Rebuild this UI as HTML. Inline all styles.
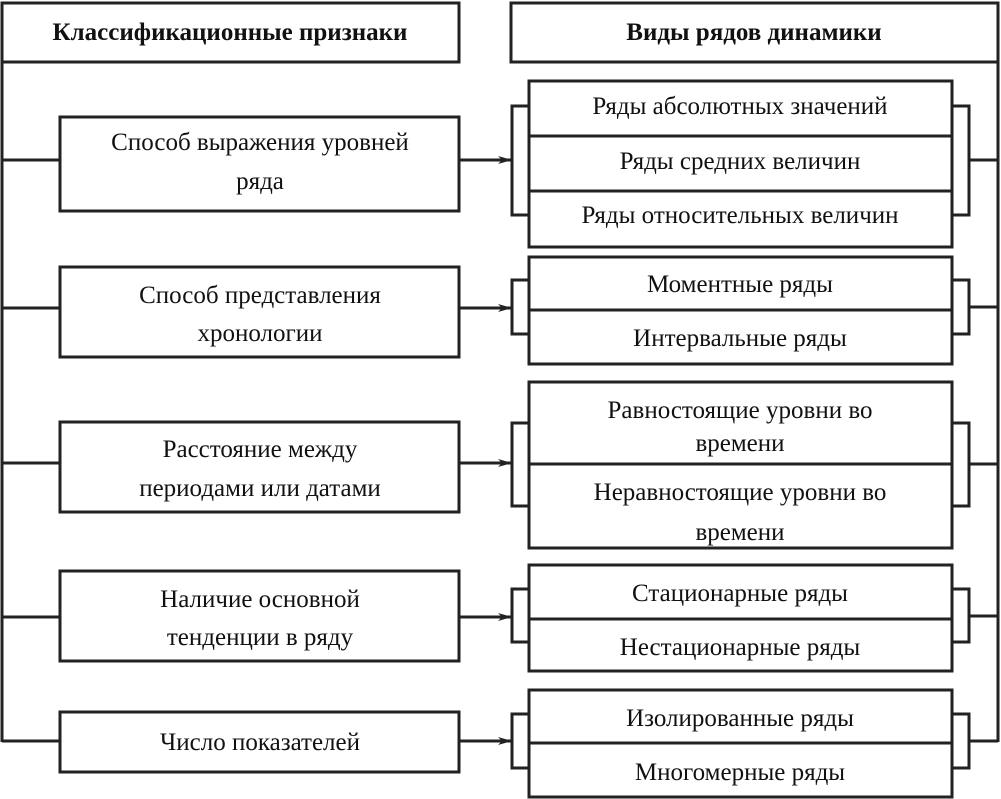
<!DOCTYPE html>
<html><head><meta charset="utf-8"><style>
html,body{margin:0;padding:0;background:#fff;}
svg{display:block;}
text{font-family:"Liberation Serif",serif;fill:#111;}
.t{font-size:25px;}
.h{font-size:25px;font-weight:bold;}
</style></head><body>
<svg width="1001" height="799" viewBox="0 0 1001 799" xmlns="http://www.w3.org/2000/svg">
<defs>
<marker id="a" markerWidth="14" markerHeight="8" refX="13" refY="4" orient="auto" markerUnits="userSpaceOnUse">
<path d="M0,0 L14,4 L0,8 L4,4 Z" fill="#222"/>
</marker>
<clipPath id="c3"><rect x="529" y="382" width="423" height="165"/></clipPath>
</defs>
<g stroke="#222" stroke-width="3" fill="none">
<!-- headers -->
<rect x="2" y="3" width="457" height="59"/>
<rect x="511" y="3" width="487" height="59"/>
<!-- spines -->
<line x1="2" y1="62" x2="2" y2="742"/>
<line x1="998" y1="62" x2="998" y2="742"/>
<!-- left boxes -->
<rect x="60" y="117" width="399" height="94"/>
<rect x="60" y="267" width="399" height="90"/>
<rect x="60" y="422" width="399" height="90"/>
<rect x="60" y="571" width="399" height="90"/>
<rect x="60" y="712" width="399" height="60"/>
<!-- left connectors -->
<line x1="2" y1="160" x2="60" y2="160"/>
<line x1="2" y1="308" x2="60" y2="308"/>
<line x1="2" y1="463" x2="60" y2="463"/>
<line x1="2" y1="617" x2="60" y2="617"/>
<line x1="2" y1="741" x2="60" y2="741"/>
<!-- arrows -->
<line x1="459" y1="160" x2="511" y2="160" marker-end="url(#a)"/>
<line x1="459" y1="308" x2="511" y2="308" marker-end="url(#a)"/>
<line x1="459" y1="463" x2="511" y2="463" marker-end="url(#a)"/>
<line x1="459" y1="617" x2="511" y2="617" marker-end="url(#a)"/>
<line x1="459" y1="741" x2="511" y2="741" marker-end="url(#a)"/>
<!-- right boxes -->
<rect x="529" y="81" width="423" height="166"/>
<line x1="529" y1="136" x2="952" y2="136"/>
<line x1="529" y1="191" x2="952" y2="191"/>
<rect x="529" y="257" width="423" height="107"/>
<line x1="529" y1="310" x2="952" y2="310"/>
<rect x="529" y="382" width="423" height="166"/>
<line x1="529" y1="464" x2="952" y2="464"/>
<rect x="529" y="565" width="423" height="106"/>
<line x1="529" y1="619" x2="952" y2="619"/>
<rect x="529" y="690" width="423" height="107"/>
<line x1="529" y1="743" x2="952" y2="743"/>
<!-- left brackets -->
<polyline points="529,106 512,106 512,215 529,215"/>
<polyline points="529,280 512,280 512,334 529,334"/>
<polyline points="529,423 512,423 512,506 529,506"/>
<polyline points="529,589 512,589 512,642 529,642"/>
<polyline points="529,714 512,714 512,768 529,768"/>
<!-- right brackets -->
<polyline points="952,106 969,106 969,215 952,215"/>
<polyline points="952,280 969,280 969,334 952,334"/>
<polyline points="952,423 969,423 969,506 952,506"/>
<polyline points="952,589 969,589 969,642 952,642"/>
<polyline points="952,714 969,714 969,768 952,768"/>
<line x1="969" y1="160" x2="998" y2="160"/>
<line x1="969" y1="307" x2="998" y2="307"/>
<line x1="969" y1="464" x2="998" y2="464"/>
<line x1="969" y1="616" x2="998" y2="616"/>
<line x1="969" y1="741" x2="998" y2="741"/>
</g>
<text class="h" x="230" y="40" text-anchor="middle">Классификационные признаки</text>
<text class="h" x="754" y="40" text-anchor="middle">Виды рядов динамики</text>

<text class="t" x="260" y="150" text-anchor="middle">Способ выражения уровней</text>
<text class="t" x="260" y="189" text-anchor="middle">ряда</text>
<text class="t" x="260" y="303" text-anchor="middle">Способ представления</text>
<text class="t" x="260" y="341" text-anchor="middle">хронологии</text>
<text class="t" x="260" y="457" text-anchor="middle">Расстояние между</text>
<text class="t" x="260" y="496" text-anchor="middle">периодами или датами</text>
<text class="t" x="260" y="607" text-anchor="middle">Наличие основной</text>
<text class="t" x="260" y="645" text-anchor="middle">тенденции в ряду</text>
<text class="t" x="260" y="750" text-anchor="middle">Число показателей</text>

<text class="t" x="740" y="114" text-anchor="middle">Ряды абсолютных значений</text>
<text class="t" x="740" y="169" text-anchor="middle">Ряды средних величин</text>
<text class="t" x="740" y="223" text-anchor="middle">Ряды относительных величин</text>
<text class="t" x="740" y="292" text-anchor="middle">Моментные ряды</text>
<text class="t" x="740" y="346" text-anchor="middle">Интервальные ряды</text>
<text class="t" x="740" y="418" text-anchor="middle">Равностоящие уровни во</text>
<text class="t" x="740" y="451" text-anchor="middle">времени</text>
<g clip-path="url(#c3)">
<text class="t" x="740" y="500" text-anchor="middle">Неравностоящие уровни во</text>
<text class="t" x="740" y="540" text-anchor="middle">времени</text>
</g>
<text class="t" x="740" y="601" text-anchor="middle">Стационарные ряды</text>
<text class="t" x="740" y="655" text-anchor="middle">Нестационарные ряды</text>
<text class="t" x="740" y="726" text-anchor="middle">Изолированные ряды</text>
<text class="t" x="740" y="780" text-anchor="middle">Многомерные ряды</text>
</svg>
</body></html>
